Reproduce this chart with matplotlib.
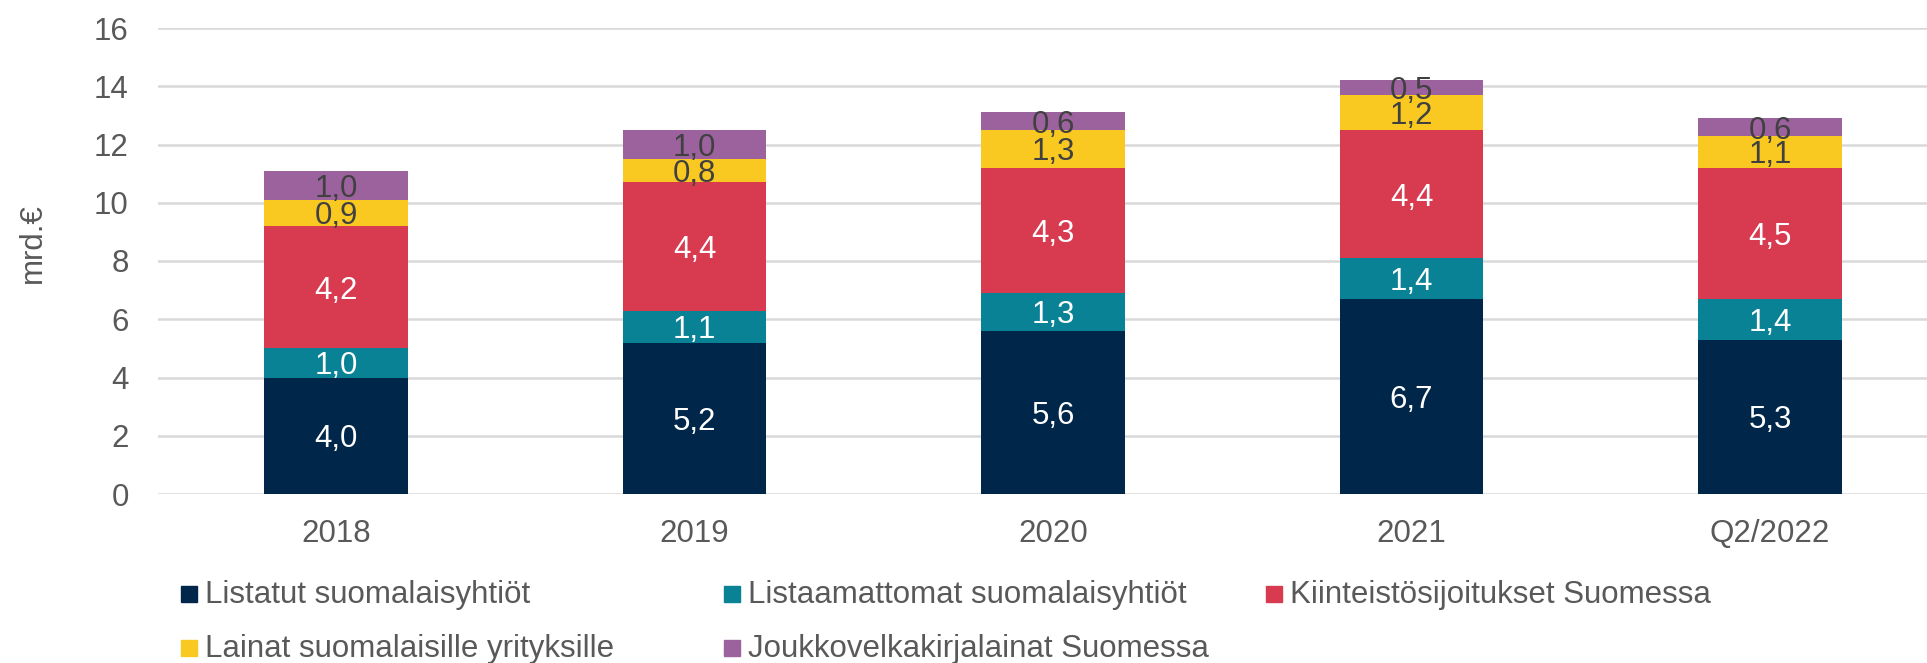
import matplotlib
matplotlib.use("Agg")
import matplotlib.pyplot as plt
from matplotlib.patches import Rectangle

categories = ["2018", "2019", "2020", "2021", "Q2/2022"]
listatut = [4.0, 5.2, 5.6, 6.7, 5.3]
listaamattomat = [1.0, 1.1, 1.3, 1.4, 1.4]
kiinteisto = [4.2, 4.4, 4.3, 4.4, 4.5]
lainat = [0.9, 0.8, 1.3, 1.2, 1.1]
joukkovelka = [1.0, 1.0, 0.6, 0.5, 0.6]
series_names = ["Listatut suomalaisyhtiöt", "Listaamattomat suomalaisyhtiöt",
                "Kiinteistösijoitukset Suomessa", "Lainat suomalaisille yrityksille",
                "Joukkovelkakirjalainat Suomessa"]
y_ticks = [0, 2, 4, 6, 8, 10, 12, 14, 16]

colors = ["#00264A", "#0A8296", "#D83A50", "#F9C921", "#9B629E"]
label_colors = ["white", "white", "white", "#404040", "#404040"]
FS = 22.5
GREY = "#595959"

plt.rcParams["font.family"] = ["Liberation Sans", "DejaVu Sans"]

W, H = 1927, 663
fig = plt.figure(figsize=(W / 100, H / 100), dpi=100)
ax = fig.add_axes([158 / W, 1 - 494 / H, 1 - 158 / W, (494 - 28) / H])

series = [listatut, listaamattomat, kiinteisto, lainat, joukkovelka]
x = list(range(len(categories)))
bottom = [0.0] * len(categories)
for vals, col, lcol in zip(series, colors, label_colors):
    ax.bar(x, vals, width=0.40, bottom=bottom, color=col, zorder=3)
    for xi, b, v in zip(x, bottom, vals):
        ax.text(xi, b + v / 2, f"{v:.1f}".replace(".", ","), ha="center",
                va="center_baseline", color=lcol, fontsize=FS, zorder=4)
    bottom = [b + v for b, v in zip(bottom, vals)]

ax.set_xlim(-0.497, 4.438)
ax.set_ylim(0, 16)
ax.set_yticks(y_ticks)
ax.set_yticklabels([str(t) for t in y_ticks])
ax.set_xticks(x)
ax.set_xticklabels(categories)
ax.tick_params(axis="both", length=0, labelsize=FS, labelcolor=GREY)
ax.tick_params(axis="x", pad=18)
ax.tick_params(axis="y", pad=21)
ax.grid(axis="y", color="#D9D9D9", linewidth=1.8, zorder=0)
ax.set_axisbelow(True)
for s in ax.spines.values():
    s.set_visible(False)

fig.text(33 / W, 1 - 243 / H, "mrd.€", rotation=90, ha="center", va="center",
         fontsize=FS, color=GREY)

# legend laid out row by row: (series index, marker left px, text baseline px)
entries = [(0, 181, 603), (1, 724, 603), (2, 1266, 603), (3, 181, 657), (4, 724, 657)]
for idx, px, base in entries:
    fig.patches.append(Rectangle((px / W, (H - base + 1) / H), 16 / W, 16 / H,
                                 transform=fig.transFigure, color=colors[idx]))
    fig.text((px + 24) / W, (H - base) / H, series_names[idx], ha="left",
             va="baseline", fontsize=FS, color=GREY)

fig.savefig("out.png", dpi=100)
